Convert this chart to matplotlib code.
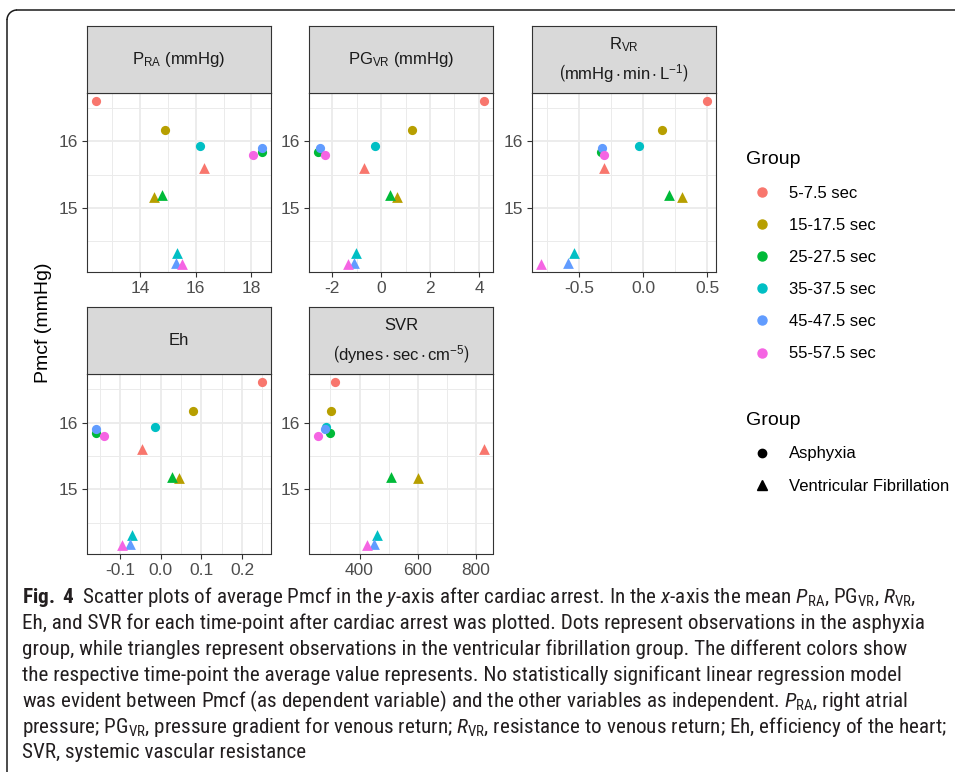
import matplotlib.pyplot as plt
from matplotlib import font_manager
from matplotlib.lines import Line2D
from matplotlib.patches import Arc

groups = ["5-7.5 sec", "15-17.5 sec", "25-27.5 sec", "35-37.5 sec", "45-47.5 sec", "55-57.5 sec"]
colors = ["#F8766D", "#B79F00", "#00BA38", "#00BFC4", "#619CFF", "#F564E3"]
arrest_types = ["Asphyxia", "Ventricular Fibrillation"]

# Pmcf (mmHg) per time-point
pmcf_asph = [16.61, 16.17, 15.84, 15.93, 15.90, 15.80]
pmcf_vf = [15.60, 15.17, 15.19, 14.32, 14.18, 14.16]

# x variables per time-point
pra_asph = [12.41, 14.91, 18.39, 16.14, 18.37, 18.04]
pra_vf = [16.30, 14.51, 14.78, 15.34, 15.29, 15.52]
pgvr_asph = [4.22, 1.27, -2.59, -0.23, -2.50, -2.28]
pgvr_vf = [-0.71, 0.65, 0.36, -1.02, -1.12, -1.35]
rvr_asph = [0.50, 0.147, -0.33, -0.034, -0.324, -0.306]
rvr_vf = [-0.306, 0.30, 0.202, -0.536, -0.59, -0.80]
eh_asph = [0.25, 0.079, -0.16, -0.013, -0.159, -0.14]
eh_vf = [-0.045, 0.045, 0.027, -0.071, -0.076, -0.095]
svr_asph = [317, 303, 299, 284, 280, 256]
svr_vf = [829, 602, 507, 459, 451, 425]

# strip labels: (first line, second line or None)
strip_labels = [
    (r"$\mathregular{P_{RA}}$ (mmHg)", None),
    (r"$\mathregular{PG_{VR}}$ (mmHg)", None),
    (r"$\mathregular{R_{VR}}$", r"$\mathregular{\left(mmHg \cdot min \cdot L^{-1}\right)}$"),
    ("Eh", None),
    ("SVR", r"$\mathregular{\left(dynes \cdot sec \cdot cm^{-5}\right)}$"),
]
x_major = [[14, 16, 18], [-2, 0, 2, 4], [-0.5, 0.0, 0.5], [-0.1, 0.0, 0.1, 0.2], [400, 600, 800]]
x_minor = [[13, 15, 17], [-1, 1, 3], [-0.75, -0.25, 0.25], [-0.15, -0.05, 0.05, 0.15, 0.25], [300, 500, 700]]
x_ticklabels = [["14", "16", "18"], ["-2", "0", "2", "4"], ["-0.5", "0.0", "0.5"],
                ["-0.1", "0.0", "0.1", "0.2"], ["400", "600", "800"]]
x_data = [(pra_asph, pra_vf), (pgvr_asph, pgvr_vf), (rvr_asph, rvr_vf),
          (eh_asph, eh_vf), (svr_asph, svr_vf)]

W, H = 955, 772
chart_font = "Liberation Sans"
names = {f.name for f in font_manager.fontManager.ttflist}
cap_font = "Liberation Sans"
for nm in ["Liberation Sans Narrow", "Roboto Condensed", "Open Sans Condensed", "Noto Sans Condensed"]:
    if nm in names:
        cap_font = nm
        break

plt.rcParams["font.family"] = [chart_font, "DejaVu Sans"]
plt.rcParams["mathtext.fontset"] = "custom"
plt.rcParams["mathtext.rm"] = cap_font
plt.rcParams["mathtext.it"] = cap_font + ":italic"
plt.rcParams["mathtext.bf"] = cap_font + ":bold"


def px_rect(left, top, width, height):
    return [left / W, 1 - (top + height) / H, width / W, height / H]


fig = plt.figure(figsize=(W / 100, H / 100), dpi=100)

col_left = [87.3, 309.3, 532.3]
row_top = [92.7, 374.0]
panel_w, panel_h, strip_h = 183.4, 179.5, 66.7

ylim_lo = min(pmcf_asph + pmcf_vf)
ylim_hi = max(pmcf_asph + pmcf_vf)
yr = ylim_hi - ylim_lo

for i in range(5):
    row, col = divmod(i, 3)
    l, t = col_left[col], row_top[row]
    ax = fig.add_axes(px_rect(l, t, panel_w, panel_h))
    xa, xv = x_data[i]
    for g in range(len(groups)):
        ax.scatter(xa[g], pmcf_asph[g], s=44, marker="o", color=colors[g], lw=0, zorder=3)
        ax.scatter(xv[g], pmcf_vf[g], s=60, marker="^", color=colors[g], lw=0, zorder=3)
    xr = max(xa + xv) - min(xa + xv)
    ax.set_xlim(min(xa + xv) - 0.05 * xr, max(xa + xv) + 0.05 * xr)
    ax.set_ylim(ylim_lo - 0.05 * yr, ylim_hi + 0.05 * yr)
    ax.set_xticks(x_major[i])
    ax.set_xticklabels(x_ticklabels[i])
    ax.set_xticks(x_minor[i], minor=True)
    ax.set_yticks([15, 16])
    ax.set_yticks([14.5, 15.5, 16.5], minor=True)
    ax.grid(True, which="major", color="#EBEBEB", lw=1.3)
    ax.grid(True, which="minor", color="#EBEBEB", lw=0.7)
    ax.set_axisbelow(True)
    ax.tick_params(which="major", length=3.5, width=0.8, color="#333333",
                   labelcolor="#4D4D4D", labelsize=12.5, pad=3)
    ax.tick_params(which="minor", length=0)
    for sp in ax.spines.values():
        sp.set_color("#333333")
        sp.set_linewidth(0.8)

    sx = fig.add_axes(px_rect(l, t - strip_h, panel_w, strip_h))
    sx.set_facecolor("#D9D9D9")
    sx.set_xticks([])
    sx.set_yticks([])
    for sp in sx.spines.values():
        sp.set_color("#333333")
        sp.set_linewidth(0.8)
    top_line, bottom_line = strip_labels[i]
    if bottom_line is None:
        sx.text(0.5, 0.5, top_line, ha="center", va="center", fontsize=12,
                color="#1A1A1A", transform=sx.transAxes)
    else:
        sx.text(0.5, 0.72, top_line, ha="center", va="center", fontsize=12,
                color="#1A1A1A", transform=sx.transAxes)
        sx.text(0.5, 0.29, bottom_line, ha="center", va="center", fontsize=12,
                color="#1A1A1A", transform=sx.transAxes)

fig.text(43 / W, 1 - 323 / H, "Pmcf (mmHg)", rotation=90, ha="center", va="center",
         fontsize=14, color="black")

# legends
color_handles = [Line2D([], [], ls="", marker="o", ms=6.5, color=c) for c in colors]
shape_handles = [Line2D([], [], ls="", marker="o", ms=6, color="black"),
                 Line2D([], [], ls="", marker="^", ms=7, color="black")]
leg_kw = dict(loc="upper left", frameon=False, fontsize=12, title_fontsize=14, borderpad=0,
              labelspacing=1.03, handlelength=1.9, handletextpad=0.66, alignment="left")
fig.legend(color_handles, groups, title="Group", bbox_to_anchor=(738 / W, 1 - 143 / H), **leg_kw)
fig.legend(shape_handles, arrest_types, title="Group", bbox_to_anchor=(738 / W, 1 - 404 / H), **leg_kw)

# caption
caption = [
    r"$\mathbf{Fig.\ 4}$  Scatter plots of average Pmcf in the $y$-axis after cardiac arrest. "
    r"In the $x$-axis the mean $P_{\mathrm{RA}}$, $\mathrm{PG}_{\mathrm{VR}}$, $R_{\mathrm{VR}}$,",
    "Eh, and SVR for each time-point after cardiac arrest was plotted. Dots represent observations in the asphyxia",
    "group, while triangles represent observations in the ventricular fibrillation group. The different colors show",
    "the respective time-point the average value represents. No statistically significant linear regression model",
    r"was evident between Pmcf (as dependent variable) and the other variables as independent. "
    r"$P_{\mathrm{RA}}$, right atrial",
    r"pressure; $\mathrm{PG}_{\mathrm{VR}}$, pressure gradient for venous return; $R_{\mathrm{VR}}$, "
    r"resistance to venous return; Eh, efficiency of the heart;",
    "SVR, systemic vascular resistance",
]
cap_texts = []
for k, line in enumerate(caption):
    cap_texts.append(fig.text(22 / W, 1 - (597 + 26 * k) / H, line, ha="left", va="center",
                              fontsize=12, family=cap_font, color="#231F20"))

# scale caption so the longest line spans the same width as in the figure
fig.canvas.draw()
rend = fig.canvas.get_renderer()
scale = 926 / cap_texts[5].get_window_extent(rend).width
for tx in cap_texts:
    tx.set_fontsize(12 * scale)

# frame: top and left edges with a rounded corner (inches)
frame_kw = dict(color="#1A1A1A", lw=1.1, transform=fig.dpi_scale_trans)
fig.add_artist(Line2D([0.07, 0.07], [-0.1, 7.52], **frame_kw))
fig.add_artist(Line2D([0.17, 9.7], [7.62, 7.62], **frame_kw))
fig.add_artist(Arc((0.17, 7.52), 0.2, 0.2, theta1=90, theta2=180, **frame_kw))

fig.savefig("out.png", dpi=100)
